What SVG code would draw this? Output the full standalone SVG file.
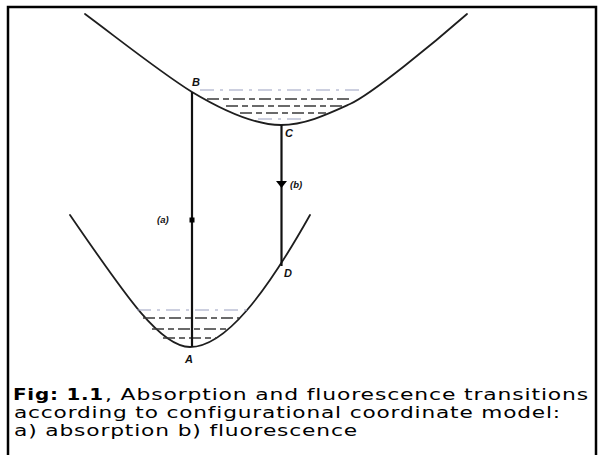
<svg xmlns="http://www.w3.org/2000/svg" width="600" height="455" viewBox="0 0 600 455">
<style>
.curve{fill:none;stroke:#1e1e1e;stroke-width:1.8;stroke-linecap:round;stroke-linejoin:round}
.vline{stroke:#111;stroke-width:2.2}
.lvl{stroke:#3a3a3a;stroke-width:1.3;stroke-dasharray:12 4 6 4}
.lvl-light{stroke:#9aa0c0;stroke-width:1.1;stroke-dasharray:14 6 3 6}
.pt{font-family:"Liberation Sans",Arial,sans-serif;font-style:italic;font-weight:bold;font-size:11px;fill:#111}
.tag{font-family:"Liberation Sans",Arial,sans-serif;font-style:italic;font-weight:bold;font-size:9.5px;fill:#111}
.cap{font-family:"DejaVu Sans","Liberation Sans",sans-serif;font-size:15.5px;fill:#000;letter-spacing:0.6px}
</style>
<rect x="0" y="0" width="600" height="455" fill="#fff"/>
<rect x="8" y="7" width="588" height="470" fill="#fff" stroke="#000" stroke-width="2.5"/>

<g id="upper-curve">
<path class="curve" d="M85,14 C120,40 160,72 192,92 C222,110 255,125 281,125 C305,125 328,114 350,104 C372,94 435,42 467,14"/>
<line class="lvl-light" x1="200" y1="90" x2="360" y2="90"/>
<line class="lvl" x1="207" y1="99" x2="352" y2="99"/>
<line class="lvl" x1="226" y1="106" x2="343" y2="106"/>
<line class="lvl" x1="240" y1="113" x2="326" y2="113"/>
<line class="lvl-light" x1="258" y1="119" x2="302" y2="119"/>
</g>

<g id="lower-curve">
<path class="curve" d="M70,215 C125,295 160,347 190,347 C225,347 265,295 310,215"/>
<line class="lvl-light" x1="137" y1="310" x2="247" y2="310"/>
<line class="lvl" x1="143" y1="318" x2="239" y2="318"/>
<line class="lvl" x1="152" y1="329" x2="230" y2="329"/>
<line class="lvl" x1="163" y1="338" x2="217" y2="338"/>
</g>

<g id="connectors">
<line class="vline" x1="192" y1="92" x2="192" y2="347"/>
<rect x="189.5" y="217.5" width="5" height="5" fill="#000"/>
<line class="vline" x1="281.5" y1="125" x2="281.5" y2="266" stroke="#1a1a30"/>
<polygon points="276,181 287,181 281.5,188" fill="#000"/>
</g>

<g id="node-B"><text class="pt" x="192" y="86">B</text></g>
<g id="node-C"><text class="pt" x="285" y="137" font-weight="normal">C</text></g>
<g id="node-D"><text class="pt" x="284" y="277">D</text></g>
<g id="node-A"><text class="pt" x="185" y="363">A</text></g>
<g id="label-a"><text class="tag" x="157" y="223">(a)</text></g>
<g id="label-b"><text class="tag" x="290" y="188">(b)</text></g>

<g id="caption">
<text class="cap" x="13" y="400" font-weight="bold" textLength="91" lengthAdjust="spacingAndGlyphs">Fig: 1.1</text>
<text class="cap" x="105" y="400" textLength="484" lengthAdjust="spacingAndGlyphs">, Absorption and fluorescence transitions</text>
<text class="cap" x="14" y="418" textLength="547" lengthAdjust="spacingAndGlyphs">according to configurational coordinate model:</text>
<text class="cap" x="14" y="436" textLength="344" lengthAdjust="spacingAndGlyphs">a) absorption b) fluorescence</text>
</g>
</svg>
